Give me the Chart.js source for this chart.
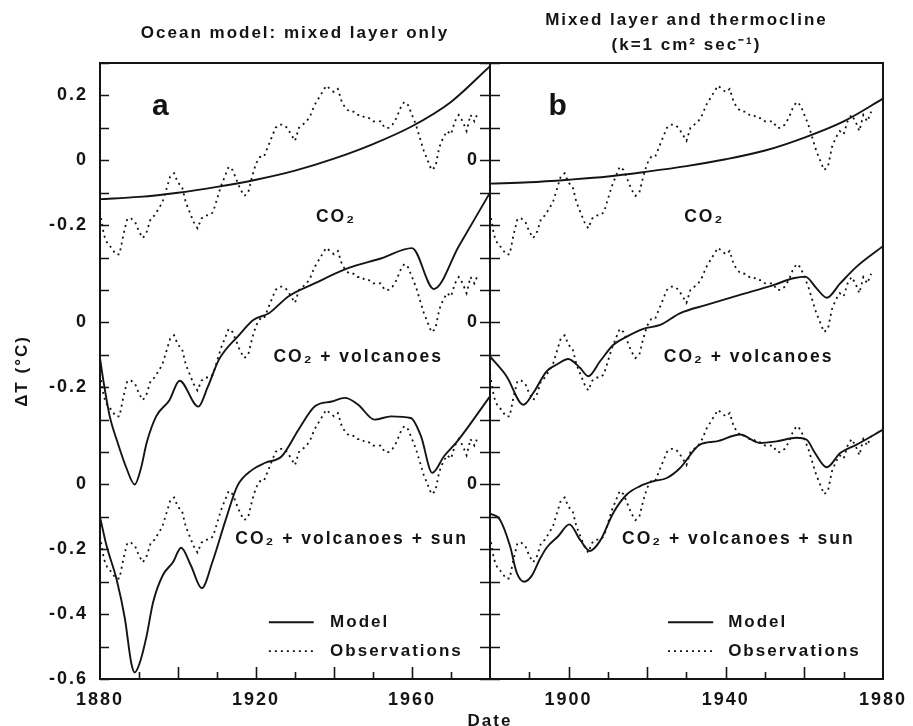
<!DOCTYPE html>
<html>
<head>
<meta charset="utf-8">
<title>Global temperature: model vs observations</title>
<script src="https://cdn.jsdelivr.net/npm/chart.js@4.4.1/dist/chart.umd.min.js"></script>
<style>
    html, body { margin: 0; padding: 0; background: #fff; }
    #wrap { position: relative; width: 913px; height: 726px; }
    #wrap canvas { position: absolute; left: 0; top: 0; }
</style>
</head>
<body>
<div id="wrap">
    <canvas id="chartA" width="913" height="726"></canvas>
    <canvas id="chartB" width="913" height="726"></canvas>
</div>
<script>
// ============ DATA ============

// observed annual dT (°C), one value per year from 1880
const obsStartYear = 1880;
const obsValues = [
    -0.16, -0.23, -0.26, -0.27, -0.29, -0.29, -0.23, -0.18, -0.18, -0.19,   // 1880s
    -0.22, -0.24, -0.22, -0.18, -0.17, -0.15, -0.13, -0.09, -0.05, -0.04,   // 1890s
    -0.07, -0.08, -0.13, -0.16, -0.19, -0.21, -0.18, -0.17, -0.17, -0.16,   // 1900s
    -0.12, -0.08, -0.05, -0.02, -0.03, -0.06, -0.09, -0.11, -0.10, -0.05,   // 1910s
    -0.01, 0.01, 0.01, 0.04, 0.07, 0.10, 0.11, 0.11, 0.10, 0.08,            // 1920s
    0.06, 0.10, 0.11, 0.12, 0.14, 0.17, 0.19, 0.21, 0.23, 0.22,             // 1930s
    0.21, 0.22, 0.18, 0.16, 0.15, 0.15, 0.14, 0.14, 0.13, 0.13,             // 1940s
    0.12, 0.12, 0.12, 0.10, 0.10, 0.11, 0.13, 0.16, 0.18, 0.17,             // 1950s
    0.14, 0.11, 0.07, 0.03, 0.00, -0.03, -0.02, 0.04, 0.07, 0.09,           // 1960s
    0.08, 0.12, 0.14, 0.12, 0.09, 0.14, 0.12, 0.15                          // 1970s
];
const obsYears = obsValues.map((v, i) => obsStartYear + i);

// panel a: mixed layer only
const modelA_co2Years = [1880, 1890, 1900, 1910, 1920, 1930, 1940, 1950, 1960, 1970, 1980];
const modelA_co2 = [-0.12, -0.113, -0.10, -0.082, -0.06, -0.032, 0.005, 0.05, 0.105, 0.18, 0.29];

const modelA_volcYears = [1880, 1881, 1882.5, 1884.5, 1886.8, 1888.9, 1890.5, 1892, 1894.4, 1897.8,
    1900.4, 1905.2, 1907.6, 1910.5, 1915.6, 1919.4, 1923.3, 1928.3, 1935, 1943.6,
    1952, 1960, 1965.6, 1972, 1980];
const modelA_volc = [-0.11, -0.19, -0.29, -0.37, -0.45, -0.50, -0.45, -0.37, -0.29, -0.24,
    -0.18, -0.26, -0.20, -0.115, -0.04, 0.008, 0.028, 0.08, 0.12, 0.167,
    0.197, 0.229, 0.103, 0.235, 0.40];

const modelA_sunYears = [1880, 1881.7, 1884.2, 1886.4, 1888, 1888.9, 1890.2, 1891.9, 1893.6, 1896.1,
    1898.7, 1900.8, 1903.3, 1906.1, 1908.8, 1912.2, 1915.2, 1919, 1922.4, 1926.6,
    1930.9, 1935.1, 1939.4, 1942.8, 1946.2, 1950.4, 1954.6, 1959.7, 1962.3, 1965.2,
    1968.2, 1971.6, 1980];
const modelA_sun = [-0.10, -0.19, -0.29, -0.415, -0.55, -0.58, -0.55, -0.47, -0.364, -0.28,
    -0.24, -0.195, -0.25, -0.32, -0.24, -0.11, -0.005, 0.045, 0.067, 0.087,
    0.169, 0.241, 0.256, 0.267, 0.246, 0.20, 0.21, 0.205, 0.149, 0.036,
    0.087, 0.133, 0.272];

// panel b: mixed layer and thermocline
const modelB_co2Years = [1880, 1890, 1900, 1910, 1920, 1930, 1940, 1950, 1960, 1970, 1980];
const modelB_co2 = [-0.072, -0.068, -0.06, -0.05, -0.035, -0.018, 0.003, 0.03, 0.07, 0.12, 0.19];

const modelB_volcYears = [1880, 1884.2, 1888.5, 1891, 1894.4, 1897, 1899.9, 1902.9, 1905, 1908,
    1911.4, 1914.8, 1919, 1923.3, 1928.3, 1935.1, 1943.6, 1952.1, 1957.2, 1960.2,
    1963.1, 1965.7, 1969.1, 1973.3, 1980];
const modelB_volc = [-0.105, -0.166, -0.254, -0.218, -0.151, -0.13, -0.113, -0.14, -0.166, -0.12,
    -0.069, -0.044, -0.02, -0.008, 0.028, 0.054, 0.085, 0.115, 0.136, 0.141,
    0.105, 0.076, 0.12, 0.172, 0.235];

const modelB_sunYears = [1880, 1882.5, 1885.1, 1886.8, 1888.7, 1890.6, 1892.7, 1894.4, 1897.4, 1900.2,
    1902.9, 1905.4, 1908, 1911.4, 1914.8, 1918.2, 1921.6, 1925, 1928.3, 1933.4,
    1937.7, 1943.6, 1948.7, 1952.9, 1958, 1960.6, 1962.7, 1965.7, 1969.1, 1973.3, 1980];
const modelB_sun = [-0.09, -0.108, -0.19, -0.272, -0.30, -0.282, -0.23, -0.195, -0.159, -0.123,
    -0.17, -0.205, -0.174, -0.087, -0.031, -0.005, 0.01, 0.02, 0.05, 0.123,
    0.133, 0.154, 0.128, 0.133, 0.144, 0.138, 0.097, 0.053, 0.097, 0.123, 0.169];

// each curve pair is shifted down by half a degree on the shared axis
const groupOffsets = [0, -0.5, -1.0];
const groupNames = ["CO\u2082", "CO\u2082 + volcanoes", "CO\u2082 + volcanoes + sun"];

// tick labels
const yTickValuesA = [0.2, 0, -0.2, -0.5, -0.7, -1.0, -1.2, -1.4, -1.6];
const yTickLabelsA = ["0.2", "0", "-0.2", "0", "-0.2", "0", "-0.2", "-0.4", "-0.6"];
const yTickValuesB = [0, -0.5, -1.0];
const yTickLabelsB = ["0", "0", "0"];
const xLabelsA = [1880, 1920, 1960];
const xLabelsB = [1900, 1940, 1980];

// ============ STYLE ============

const INK = "#141414";
const FONT = "'Liberation Sans', Arial, sans-serif";
const SPACING = "2px";

// ============ PLUGINS ============

// frame + tick marks (inward on the left, crossing on the shared axis, upward on x)
const frameTicks = {
    id: "frameTicks",
    afterDatasetsDraw(chart, args, opts) {
        const { ctx, chartArea: a, scales: { x, y } } = chart;
        ctx.save();
        ctx.strokeStyle = INK;
        ctx.lineWidth = 2;
        ctx.strokeRect(a.left, a.top, a.right - a.left, a.bottom - a.top);
        ctx.lineWidth = 1.6;
        ctx.beginPath();
        y.ticks.forEach(t => {
            const py = Math.round(y.getPixelForValue(t.value)) + 0.5;
            ctx.moveTo(a.left - opts.yOut, py);
            ctx.lineTo(a.left + opts.yIn, py);
        });
        x.ticks.forEach(t => {
            if (t.value <= x.min || t.value >= x.max) return;
            const px = Math.round(x.getPixelForValue(t.value)) + 0.5;
            const len = t.value % 20 === 0 ? 12 : 7;
            ctx.moveTo(px, a.bottom);
            ctx.lineTo(px, a.bottom - len);
        });
        ctx.stroke();
        ctx.restore();
    }
};

// titles, curve labels, panel letter, legend, axis titles
const figText = {
    id: "figText",
    beforeDraw(chart) {
        chart.ctx.letterSpacing = SPACING;
    },
    afterDraw(chart, args, opts) {
        const { ctx, chartArea: a, scales: { x, y } } = chart;
        const cx = (a.left + a.right) / 2;
        ctx.save();
        ctx.fillStyle = INK;
        ctx.strokeStyle = INK;
        ctx.letterSpacing = SPACING;
        ctx.textAlign = "center";
        ctx.textBaseline = "middle";

        ctx.font = `bold 17px ${FONT}`;
        opts.titles.forEach((t, i) => ctx.fillText(t, cx, opts.titleY[i]));

        ctx.font = `bold 17.5px ${FONT}`;
        groupNames.forEach((name, i) => {
            ctx.fillText(name, x.getPixelForValue(opts.labelYears[i]), y.getPixelForValue(opts.labelValue[i]));
        });

        ctx.font = `bold 30px ${FONT}`;
        ctx.letterSpacing = "0px";
        ctx.fillText(opts.letter, x.getPixelForValue(opts.letterAt[0]), y.getPixelForValue(opts.letterAt[1]));
        ctx.letterSpacing = SPACING;

        // legend
        const lg = opts.legend;
        ctx.font = `bold 17px ${FONT}`;
        ctx.textAlign = "left";
        ctx.lineWidth = 1.8;
        [["Model", []], ["Observations", [2, 4]]].forEach(([txt, dash], i) => {
            const py = y.getPixelForValue(lg.rows[i]);
            ctx.setLineDash(dash);
            ctx.beginPath();
            ctx.moveTo(x.getPixelForValue(lg.lineFrom), py);
            ctx.lineTo(x.getPixelForValue(lg.lineTo), py);
            ctx.stroke();
            ctx.fillText(txt, x.getPixelForValue(lg.textAt), py);
        });
        ctx.setLineDash([]);

        if (opts.yTitle) {
            ctx.save();
            ctx.translate(22, (a.top + a.bottom) / 2);
            ctx.rotate(-Math.PI / 2);
            ctx.textAlign = "center";
            ctx.font = `bold 17px ${FONT}`;
            ctx.fillText(opts.yTitle, 0, 0);
            ctx.restore();
        }
        if (opts.xTitle) {
            ctx.textAlign = "center";
            ctx.textBaseline = "top";
            ctx.font = `bold 17px ${FONT}`;
            ctx.fillText(opts.xTitle, a.left, 713);
        }
        ctx.restore();
    }
};

// ============ HELPERS ============

function pickLabel(value, values, labels) {
    const i = values.findIndex(v => Math.abs(v - value) < 1e-6);
    return i >= 0 ? labels[i] : "";
}

function series(years, values, offset) {
    return years.map((yr, i) => ({ x: yr, y: values[i] + offset }));
}

function buildDatasets(models) {
    const sets = [];
    groupOffsets.forEach((off, g) => {
        sets.push({
            label: "Observations",
            data: series(obsYears, obsValues, off),
            borderColor: INK,
            borderWidth: 1.8,
            borderDash: [2, 4],
            pointRadius: 0,
            tension: 0
        });
        sets.push({
            label: "Model",
            data: series(models[g][0], models[g][1], off),
            borderColor: INK,
            borderWidth: 1.9,
            pointRadius: 0,
            cubicInterpolationMode: "monotone"
        });
    });
    return sets;
}

function makeChart(id, cfg) {
    return new Chart(document.getElementById(id).getContext("2d"), {
        type: "line",
        data: { datasets: buildDatasets(cfg.models) },
        options: {
            responsive: false,
            animation: false,
            devicePixelRatio: 1,
            layout: { padding: { left: 0, top: 63, right: cfg.padRight, bottom: 0 } },
            scales: {
                x: {
                    type: "linear",
                    min: 1880,
                    max: 1980,
                    afterFit: s => { s.height = 47; },
                    grid: { display: false, drawTicks: false },
                    border: { display: false },
                    ticks: {
                        stepSize: 10,
                        autoSkip: false,
                        maxRotation: 0,
                        padding: 10,
                        color: INK,
                        font: { family: FONT, size: 18, weight: "bold" },
                        callback: v => cfg.xLabels.includes(v) ? String(v) : ""
                    }
                },
                y: {
                    type: "linear",
                    min: -1.6,
                    max: 0.3,
                    afterFit: s => { s.width = cfg.yWidth; },
                    grid: { display: false, drawTicks: false },
                    border: { display: false },
                    ticks: {
                        stepSize: 0.1,
                        autoSkip: false,
                        padding: cfg.yPad,
                        color: INK,
                        font: { family: FONT, size: 18, weight: "bold" },
                        callback: v => pickLabel(v, cfg.yValues, cfg.yLabels)
                    }
                }
            },
            plugins: {
                legend: { display: false },
                tooltip: { enabled: false },
                frameTicks: cfg.ticks,
                figText: cfg.text
            }
        },
        plugins: [frameTicks, figText]
    });
}

// ============ CHARTS ============

makeChart("chartA", {
    models: [[modelA_co2Years, modelA_co2], [modelA_volcYears, modelA_volc], [modelA_sunYears, modelA_sun]],
    padRight: 913 - 490,
    yWidth: 100,
    yPad: 12,
    yValues: yTickValuesA,
    yLabels: yTickLabelsA,
    xLabels: xLabelsA,
    ticks: { yOut: 0, yIn: 9 },
    text: {
        titles: ["Ocean model: mixed layer only"],
        titleY: [33],
        labelYears: [1940.5, 1946.2, 1944.5],
        labelValue: [-0.175, -0.606, -1.169],
        letter: "a",
        letterAt: [1895.5, 0.166],
        legend: { rows: [-1.425, -1.514], lineFrom: 1923.3, lineTo: 1934.8, textAt: 1939 },
        yTitle: "\u0394T (\u00B0C)"
    }
});

makeChart("chartB", {
    models: [[modelB_co2Years, modelB_co2], [modelB_volcYears, modelB_volc], [modelB_sunYears, modelB_sun]],
    padRight: 913 - 883,
    yWidth: 490,
    yPad: 11,
    yValues: yTickValuesB,
    yLabels: yTickLabelsB,
    xLabels: xLabelsB,
    ticks: { yOut: 10, yIn: 10 },
    text: {
        titles: ["Mixed layer and thermocline", "(k=1 cm\u00B2 sec\u207B\u00B9)"],
        titleY: [20, 45],
        labelYears: [1934.5, 1945.8, 1943.2],
        labelValue: [-0.175, -0.606, -1.169],
        letter: "b",
        letterAt: [1897.2, 0.166],
        legend: { rows: [-1.425, -1.514], lineFrom: 1925.3, lineTo: 1936.8, textAt: 1940.6 },
        xTitle: "Date"
    }
});
</script>
</body>
</html>
